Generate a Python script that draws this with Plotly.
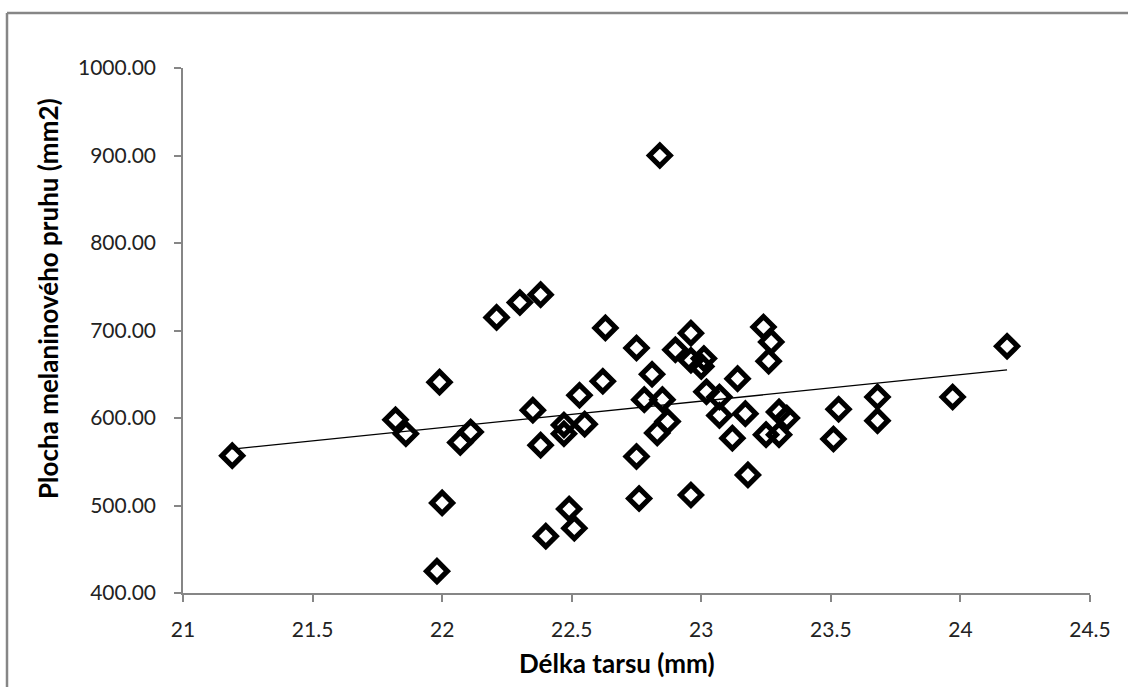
import numpy as np
import plotly.graph_objects as go

# Délka tarsu (mm)
tarsus = [21.19, 21.82, 21.86, 21.99, 22.00, 21.98, 22.07, 22.11, 22.21, 22.30,
          22.38, 22.35, 22.38, 22.47, 22.47, 22.55, 22.53, 22.62, 22.63, 22.40,
          22.49, 22.51, 22.75, 22.81, 22.78, 22.85, 22.87, 22.83, 22.75, 22.76,
          22.96, 22.96, 22.90, 22.96, 23.01, 23.00, 23.02, 23.07, 23.07, 23.14,
          23.17, 23.12, 23.18, 23.24, 23.27, 23.26, 23.25, 23.30, 23.33, 23.30,
          23.53, 23.51, 23.68, 23.68, 23.97, 24.18, 22.84]
# Plocha melaninového pruhu (mm2)
area = [557, 598, 582, 641, 503, 425, 572, 584, 715, 732,
        741, 609, 569, 592, 582, 593, 626, 642, 703, 465,
        496, 474, 680, 650, 621, 621, 596, 583, 556, 508,
        512, 697, 678, 666, 668, 659, 630, 624, 603, 645,
        605, 577, 535, 704, 687, 665, 581, 607, 600, 581,
        610, 576, 624, 597, 624, 682, 900]

x_ticks = [21, 21.5, 22, 22.5, 23, 23.5, 24, 24.5]
y_ticks = [400, 500, 600, 700, 800, 900, 1000]

x_title = "Délka tarsu (mm)"
y_title = "Plocha melaninového pruhu (mm2)"

# linear trendline (least squares)
slope, intercept = np.polyfit(tarsus, area, 1)
trend_x = [min(tarsus), max(tarsus)]
trend_y = [slope * v + intercept for v in trend_x]

W, H = 1128, 687
L, R, T, B = 183, 38, 68, 94
pw, ph = W - L - R, H - T - B

def px2paper_x(px):
    return (px - L) / pw

def px2paper_y(py):
    return (H - B - py) / ph

fig = go.Figure()
fig.add_trace(go.Scatter(
    x=tarsus, y=area, mode="markers",
    marker=dict(symbol="diamond-open", size=16, color="black",
                line=dict(width=5.2, color="black")),
    showlegend=False, hoverinfo="x+y"))
fig.add_trace(go.Scatter(
    x=trend_x, y=trend_y, mode="lines",
    line=dict(color="black", width=1.3),
    showlegend=False, hoverinfo="skip"))

axis_col = "#868686"
tick_font = dict(family="Lato", size=21, color="#222222")

fig.update_layout(
    width=W, height=H,
    margin=dict(l=L, r=R, t=T, b=B, pad=0),
    paper_bgcolor="white", plot_bgcolor="white",
    xaxis=dict(range=[21, 24.5], tickvals=x_ticks,
               ticktext=[("%g" % v) for v in x_ticks],
               showgrid=False, zeroline=False, showline=True,
               linecolor=axis_col, linewidth=1.5,
               ticks="outside", ticklen=7, tickwidth=1.5, tickcolor=axis_col,
               tickfont=tick_font, ticklabelstandoff=10),
    yaxis=dict(range=[400, 1000], tickvals=y_ticks,
               ticktext=["%.2f" % v for v in y_ticks],
               showgrid=False, zeroline=False, showline=True,
               linecolor=axis_col, linewidth=1.5,
               ticks="outside", ticklen=7, tickwidth=1.5, tickcolor=axis_col,
               tickfont=tick_font, ticklabelstandoff=14),
    annotations=[
        dict(text="<b>%s</b>" % x_title, xref="paper", yref="paper",
             x=px2paper_x(617), y=px2paper_y(663), xanchor="center", yanchor="middle",
             showarrow=False, font=dict(family="Lato", size=26, color="black")),
        dict(text="<b>%s</b>" % y_title, xref="paper", yref="paper",
             x=px2paper_x(48), y=px2paper_y(299), xanchor="center", yanchor="middle",
             textangle=-90, showarrow=False,
             font=dict(family="Lato", size=26, color="black")),
    ],
    shapes=[
        dict(type="line", xref="paper", yref="paper",
             x0=px2paper_x(7), x1=px2paper_x(W + 5), y0=px2paper_y(13), y1=px2paper_y(13),
             line=dict(color=axis_col, width=2.5)),
        dict(type="line", xref="paper", yref="paper",
             x0=px2paper_x(7), x1=px2paper_x(7), y0=px2paper_y(13), y1=px2paper_y(H + 5),
             line=dict(color=axis_col, width=2.5)),
    ],
)

fig.write_html("out.html",
               config={"displayModeBar": False},
               post_script="document.body.style.margin='0';document.body.style.overflow='hidden';")
